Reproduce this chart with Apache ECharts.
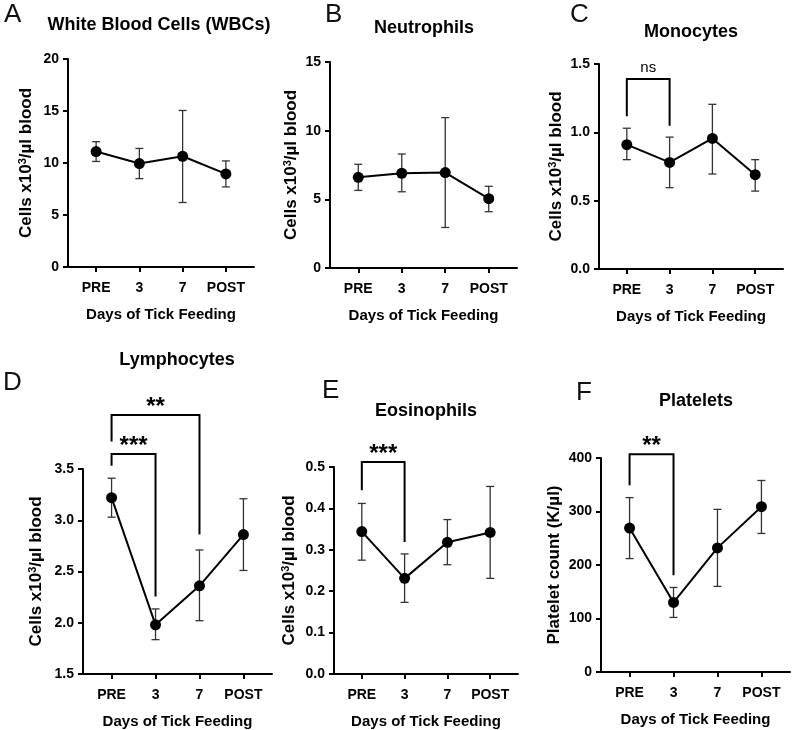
<!DOCTYPE html>
<html>
<head>
<meta charset="utf-8">
<title>Blood counts during tick feeding</title>
<script src="https://cdn.jsdelivr.net/npm/echarts@6/dist/echarts.min.js"></script>
<style>
  body { margin: 0; background: #fff; }
  #viz { width: 793px; height: 730px; }
</style>
</head>
<body>
<div id="viz"></div>
<script>
// Days of tick feeding (x categories)
const days = ['PRE', '3', '7', 'POST'];

// values: mean, upper and lower error bar ends
const wbcMean = [11.1, 9.95, 10.65, 8.95];
const wbcUpper = [12.05, 11.4, 15.05, 10.2];
const wbcLower = [10.15, 8.5, 6.2, 7.7];

const neutMean = [6.6, 6.9, 6.95, 5.05];
const neutUpper = [7.55, 8.3, 10.95, 5.95];
const neutLower = [5.65, 5.55, 2.95, 4.1];

const monoMean = [0.91, 0.78, 0.955, 0.69];
const monoUpper = [1.03, 0.965, 1.205, 0.80];
const monoLower = [0.80, 0.595, 0.695, 0.57];

const lymphMean = [3.22, 1.98, 2.36, 2.86];
const lymphUpper = [3.41, 2.135, 2.71, 3.21];
const lymphLower = [3.03, 1.835, 2.02, 2.51];

const eosMean = [0.344, 0.231, 0.318, 0.342];
const eosUpper = [0.412, 0.29, 0.373, 0.453];
const eosLower = [0.275, 0.173, 0.264, 0.231];

const pltMean = [269, 130, 232, 309];
const pltUpper = [326, 158, 304, 358];
const pltLower = [212, 102, 160, 259];

// significance brackets: [from day, to day, bar height, left foot, right foot, label]
const monoBrackets = [[0, 1, 1.39, 1.117, 1.049, 'ns']];
const lymphBrackets = [[0, 1, 3.646, 3.532, 2.255, '***'], [0, 2, 4.028, 3.769, 2.861, '**']];
const eosBrackets = [[0, 1, 0.512, 0.444, 0.319, '***']];
const pltBrackets = [[0, 1, 407, 349, 181, '**']];

const cellsName = '{t|Cells x10}{s|3}{t|/µl blood}';
const font = 'Liberation Sans, Arial, sans-serif';

const panels = [
    { letter: 'A', title: 'White Blood Cells (WBCs)', mean: wbcMean, upper: wbcUpper, lower: wbcLower,
      yMin: 0, yMax: 20, step: 5, dec: 0, yName: cellsName, brackets: [],
      grid: { left: 68, top: 59, width: 186, height: 208 }, nameGap: 32,
      letterPos: [4, 15], titlePos: [159, 25] },
    { letter: 'B', title: 'Neutrophils', mean: neutMean, upper: neutUpper, lower: neutLower,
      yMin: 0, yMax: 15, step: 5, dec: 0, yName: cellsName, brackets: [],
      grid: { left: 330, top: 62, width: 187, height: 206 }, nameGap: 29,
      letterPos: [325, 15], titlePos: [424, 28] },
    { letter: 'C', title: 'Monocytes', mean: monoMean, upper: monoUpper, lower: monoLower,
      yMin: 0, yMax: 1.5, step: 0.5, dec: 1, yName: cellsName, brackets: monoBrackets,
      grid: { left: 599, top: 64, width: 184, height: 205 }, nameGap: 33,
      letterPos: [570, 15], titlePos: [691, 32] },
    { letter: 'D', title: 'Lymphocytes', mean: lymphMean, upper: lymphUpper, lower: lymphLower,
      yMin: 1.5, yMax: 3.5, step: 0.5, dec: 1, yName: cellsName, brackets: lymphBrackets,
      grid: { left: 83, top: 469, width: 189, height: 206 }, nameGap: 37,
      letterPos: [3, 383], titlePos: [177, 360] },
    { letter: 'E', title: 'Eosinophils', mean: eosMean, upper: eosUpper, lower: eosLower,
      yMin: 0, yMax: 0.5, step: 0.1, dec: 1, yName: cellsName, brackets: eosBrackets,
      grid: { left: 334, top: 467, width: 184, height: 207 }, nameGap: 35,
      letterPos: [322, 391], titlePos: [426, 411] },
    { letter: 'F', title: 'Platelets', mean: pltMean, upper: pltUpper, lower: pltLower,
      yMin: 0, yMax: 400, step: 100, dec: 0, yName: '{t|Platelet count (K/µl)}', brackets: pltBrackets,
      grid: { left: 601, top: 458, width: 189, height: 214 }, nameGap: 37,
      letterPos: [576, 393], titlePos: [696, 401] }
];

const grids = [], xAxes = [], yAxes = [], series = [], graphics = [];

panels.forEach((p, i) => {
    grids.push(p.grid);

    xAxes.push({
        gridIndex: i, type: 'value', min: -0.65, max: 3.65,
        splitLine: { show: false },
        axisLine: { onZero: false, lineStyle: { color: '#000', width: 2 } },
        axisTick: { length: 5, lineStyle: { color: '#000', width: 2 }, customValues: [0, 1, 2, 3] },
        axisLabel: {
            customValues: [0, 1, 2, 3], margin: 14,
            formatter: v => days[Math.round(v)],
            color: '#000', fontFamily: font, fontWeight: 'bold', fontSize: 14
        },
        name: 'Days of Tick Feeding', nameLocation: 'middle', nameGap: 40,
        nameTextStyle: { color: '#000', fontFamily: font, fontWeight: 'bold', fontSize: 15 }
    });

    yAxes.push({
        gridIndex: i, type: 'value', min: p.yMin, max: p.yMax, interval: p.step,
        splitLine: { show: false },
        axisLine: { show: true, onZero: false, lineStyle: { color: '#000', width: 2 } },
        axisTick: { show: true, length: 5, lineStyle: { color: '#000', width: 2 } },
        axisLabel: {
            margin: 9, formatter: v => v.toFixed(p.dec),
            color: '#000', fontFamily: font, fontWeight: 'bold', fontSize: 14
        },
        name: p.yName, nameLocation: 'middle', nameGap: p.nameGap,
        nameTextStyle: {
            color: '#000', fontFamily: font, fontWeight: 'bold', fontSize: 17,
            rich: {
                t: { color: '#000', fontFamily: font, fontWeight: 'bold', fontSize: 17, lineHeight: 19 },
                s: { color: '#000', fontFamily: font, fontWeight: 'bold', fontSize: 11, lineHeight: 19, verticalAlign: 'top' }
            }
        }
    });

    // error bars
    series.push({
        type: 'custom', xAxisIndex: i, yAxisIndex: i, z: 2,
        data: p.mean.map((m, k) => [k, m, p.lower[k], p.upper[k]]),
        encode: { x: 0, y: [1, 2, 3] },
        renderItem: (params, api) => {
            const lo = api.coord([api.value(0), api.value(2)]);
            const hi = api.coord([api.value(0), api.value(3)]);
            const w = 4;
            const st = { stroke: '#333', lineWidth: 1.3 };
            return {
                type: 'group', children: [
                    { type: 'line', shape: { x1: lo[0], y1: lo[1], x2: hi[0], y2: hi[1] }, style: st },
                    { type: 'line', shape: { x1: hi[0] - w, y1: hi[1], x2: hi[0] + w, y2: hi[1] }, style: st },
                    { type: 'line', shape: { x1: lo[0] - w, y1: lo[1], x2: lo[0] + w, y2: lo[1] }, style: st }
                ]
            };
        }
    });

    // mean line
    series.push({
        type: 'line', xAxisIndex: i, yAxisIndex: i, z: 3,
        data: p.mean.map((m, k) => [k, m]),
        symbol: 'circle', symbolSize: 11,
        itemStyle: { color: '#000' },
        lineStyle: { color: '#000', width: 2 }
    });

    // significance brackets
    if (p.brackets.length) {
        series.push({
            type: 'custom', xAxisIndex: i, yAxisIndex: i, z: 4, clip: false,
            data: p.brackets.map(b => [b[0], b[1], b[2], b[3], b[4]]),
            encode: { x: [0, 1], y: [2] },
            renderItem: (params, api) => {
                const b = p.brackets[params.dataIndex];
                const l = api.coord([b[0], b[3]]);
                const t1 = api.coord([b[0], b[2]]);
                const t2 = api.coord([b[1], b[2]]);
                const r = api.coord([b[1], b[4]]);
                const isNs = b[5] === 'ns';
                return {
                    type: 'group', children: [
                        { type: 'polyline', shape: { points: [l, t1, t2, r] },
                          style: { stroke: '#000', lineWidth: 2, fill: null } },
                        { type: 'text', x: (t1[0] + t2[0]) / 2, y: t1[1] + (isNs ? -4 : 4),
                          style: { text: b[5], align: 'center', verticalAlign: 'bottom',
                                   font: (isNs ? 'normal 15px ' : 'bold 24px ') + font, fill: '#000' } }
                    ]
                };
            }
        });
    }

    graphics.push({
        type: 'text', x: p.letterPos[0], y: p.letterPos[1],
        style: { text: p.letter, font: 'normal 26px ' + font, fill: '#111', verticalAlign: 'middle' }
    });
    graphics.push({
        type: 'text', x: p.titlePos[0], y: p.titlePos[1],
        style: { text: p.title, font: 'bold 18px ' + font, fill: '#000', align: 'center', verticalAlign: 'middle' }
    });
});

const myChart = echarts.init(document.getElementById('viz'));
myChart.setOption({
    backgroundColor: '#fff',
    animation: false,
    grid: grids,
    xAxis: xAxes,
    yAxis: yAxes,
    series: series,
    graphic: graphics
});
</script>
</body>
</html>
